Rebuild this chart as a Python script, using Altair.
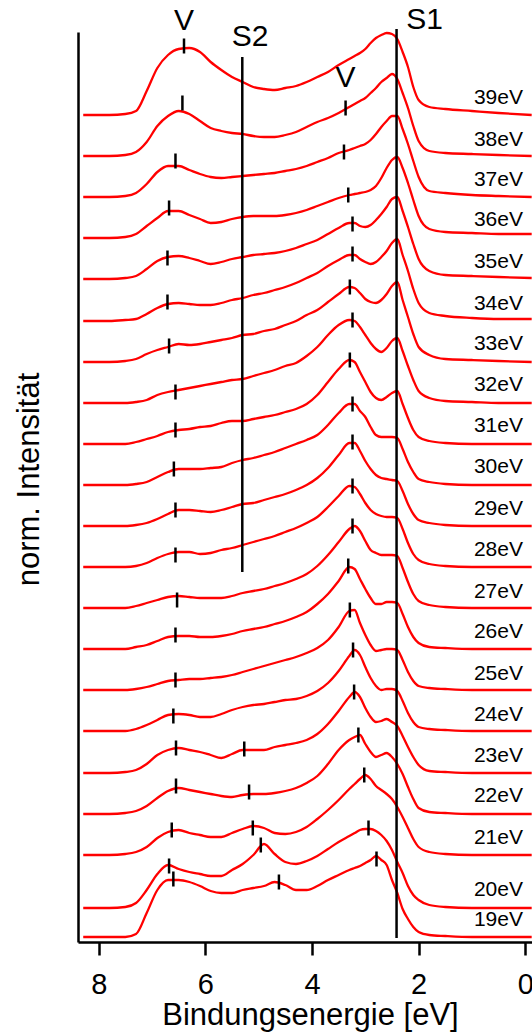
import altair as alt
import pandas as pd

FONT = "Liberation Sans"

# binding energy grid [eV]
energy = [8.29, 7.8, 7.5, 7.3, 7.1, 6.9, 6.7, 6.5, 6.3, 6.1, 5.9, 5.7, 5.5, 5.3, 5.1, 4.9, 4.7, 4.5, 4.3, 4.1,
          3.9, 3.7, 3.5, 3.3, 3.2, 3.1, 3.0, 2.9, 2.8, 2.7, 2.6, 2.5, 2.4, 2.3, 2.2, 2.1, 2.0, 1.8, 1.5, 1.0,
          0.5, -0.12]

photon = [39, 38, 37, 36, 35, 34, 33, 32, 31, 30, 29, 28, 27, 26, 25, 24, 23, 22, 21, 20, 19]
offsets = [827, 786, 745, 704, 663, 621, 580, 539, 498, 457, 416, 375, 334, 293, 252, 211, 169, 128, 87, 34, 5]
label_y = [844.5, 802, 762, 722, 680, 638, 598, 557, 516, 475, 433, 392, 350, 310, 268, 227, 186, 146, 104, 52, 22]

s39 = [0,0,1,4,24,47,60,66,67,63, 53,45,38,33,28,26,25,27,29,33, 38,43,50,56,59,62,66,72,77,80, 82,81,76,63,48,28,15,8,6,4, 2,0]
s38 = [0,0,1,4,14,30,40,45,42,35, 28,25,23,22,20,19,19,21,24,29, 34,38,43,49,52,55,58,63,68,74, 78,82,77,63,48,30,15,5,3,2, 1,0]
s37 = [0,0,1,4,13,25,31,31,27,23, 20,19,20,21,22,23,24,26,28,31, 35,39,44,47,49,51,53,57,63,70, 76,81,81,68,53,36,20,6,4,2, 1,0]
s36 = [0,0,1,4,12,20,27,27,23,19, 15,16,19,21,22,22,22,23,25,28, 32,36,40,43,44,45,46,48,52,60, 70,78,81,70,55,38,22,9,6,5, 4,4]
s35 = [0,0,1,3,10,18,22,23,21,18, 15,17,20,22,24,25,26,28,31,35, 39,45,51,56,56,53,52,54,59,65, 72,80,82,68,52,35,20,8,4,3, 2,1]
s34 = [0,0,1,2,7,13,17,18,17,16, 16,18,21,23,26,28,31,34,38,43, 48,55,61,66,66,62,59,57,59,64, 70,78,82,66,50,32,18,8,5,3, 2,2]
s33 = [0,0,1,3,8,12,15,18,17,18, 20,22,24,27,28,31,33,37,41,47, 52,60,68,75,74,69,63,60,59,62, 68,76,80,62,45,28,15,7,3,2, 1,0]
s32 = [0,0,0,1,3,8,11,13,15,17, 19,21,23,24,27,30,33,37,40,47, 56,68,78,83,82,76,68,60,54,51, 55,62,65,52,37,23,12,5,2,1, 0,0]
s31 = [0,0,0,2,5,8,12,14,15,17, 18,21,23,23,25,27,29,32,35,40, 49,62,75,84,82,72,62,52,46,44, 47,51,53,40,26,14,7,3,1,0, 0,0]
s30 = [0,0,0,1,3,8,13,16,16,16, 17,18,22,25,27,30,33,37,41,45, 50,60,72,81,81,74,68,58,50,48, 48,48,47,36,23,13,6,3,1,0, 0,0]
s29 = [0,0,0,1,3,7,12,16,16,15, 14,16,19,22,23,26,29,32,36,41, 48,58,71,83,83,75,65,57,51,48, 47,46,45,35,22,12,6,3,1,0, 0,0]
s28 = [0,0,0,1,4,9,13,15,15,13, 14,17,19,22,25,28,31,35,39,44, 50,60,71,81,80,73,64,57,53,51, 50,50,49,38,24,13,7,3,1,0, 0,0]
s27 = [0,0,0,2,5,8,11,12,11,10, 10,10,12,15,17,19,22,25,29,34, 42,53,66,79,82,77,67,58,55,53, 53,53,52,40,26,14,7,3,1,0, 0,0]
s26 = [0,0,0,2,4,8,12,13,13,12, 12,13,15,18,20,22,25,28,32,37, 45,55,68,82,80,70,60,51,45,45, 47,47,46,35,22,12,6,2,1,0, 0,0]
s25 = [0,0,0,1,3,6,9,10,11,11, 12,13,15,18,21,24,27,30,33,37, 42,50,63,79,80,67,55,45,39,40, 41,41,40,30,18,9,4,2,1,0, 0,0]
s24 = [0,0,0,2,6,11,16,17,16,14, 14,17,21,24,26,27,29,31,32,35, 40,48,60,75,81,76,64,53,45,41, 42,42,40,30,18,9,4,2,1,0, 0,0]
s23 = [0,0,1,3,9,18,23,25,23,21, 18,15,19,23,23,23,26,28,30,33, 39,49,62,76,81,76,65,56,51,52, 54,51,47,37,26,16,8,2,1,0, 0,0]
s22 = [0,0,1,3,8,16,23,26,24,22, 20,18,17,19,20,20,21,23,26,31, 38,50,64,74,77,79,70,62,57,59, 61,57,50,40,27,15,6,2,1,0, 0,0]
s21 = [0,0,1,3,8,17,23,25,22,20, 18,18,22,26,29,27,22,21,23,28, 36,45,55,66,71,76,80,76,69,65, 61,56,48,38,27,16,8,3,1,0, 0,0]
s20 = [0,0,1,5,18,34,43,39,36,34, 32,32,38,44,53,64,54,46,44,47, 52,59,66,72,75,78,79,79,77,73, 67,58,46,35,22,13,8,3,1,0, 0,0]
s19 = [0,0,0,3,24,47,57,57,55,51, 46,44,44,47,49,51,55,52,47,47, 51,57,62,67,69,71,74,77,81,77, 72,57,44,28,18,10,5,2,1,0, 0,0]

spectra = [s39, s38, s37, s36, s35, s34, s33, s32, s31, s30, s29, s28, s27, s26, s25, s24, s23, s22, s21, s20, s19]

# peak markers (energy, intensity position)
tick_E = [6.40, 6.43, 6.56, 6.68, 6.71, 6.71, 6.68, 6.56, 6.56, 6.59, 6.56, 6.56, 6.53, 6.56, 6.56, 6.60, 6.55, 6.55, 6.63, 6.68, 6.60,
          5.27, 5.18, 5.11, 4.96, 4.62,
          3.37, 3.40, 3.32, 3.24, 3.24, 3.29, 3.24, 3.29, 3.24, 3.24, 3.24, 3.24, 3.32, 3.29, 3.23, 3.21, 3.13, 3.02, 2.94, 2.79]
tick_y = [896, 839, 781, 734, 684, 640, 596, 550, 512, 473, 432, 387, 342, 307, 262, 226, 194, 156, 112, 76, 63,
          193, 150, 114, 97, 60,
          834, 790, 747, 718, 688, 655, 622, 582, 538, 500, 456, 416, 376, 332, 292, 250, 207, 167, 114, 83]

# reference lines S1, S2
ref_E = [2.414, 5.307]
ref_y1 = [4, 370]
ref_y2 = [913, 885]

# annotation letters
ann_text = ["V", "S2", "S1", "V"]
ann_E = [6.40, 5.163, 1.89, 3.37]
ann_y = [921, 905, 922, 864]

rows = []
for p, off, vals in zip(photon, offsets, spectra):
    for e, v in zip(energy, vals):
        rows.append({"E": e, "I": off + v, "spec": f"{p}eV"})
df = pd.DataFrame(rows)

lab_df = pd.DataFrame({"E": [0.044] * len(photon), "y": label_y, "t": [f"{p}eV" for p in photon]})
tick_df = pd.DataFrame({"E": tick_E, "y": [v - 7.5 for v in tick_y], "y2": [v + 7.5 for v in tick_y]})
ref_df = pd.DataFrame({"E": ref_E, "y": ref_y1, "y2": ref_y2})
ann_df = pd.DataFrame({"E": ann_E, "y": ann_y, "t": ann_text})

xscale = alt.Scale(domain=[-0.126, 8.388], reverse=True, nice=False, zero=False)
yscale = alt.Scale(domain=[0, 910], nice=False, zero=False)

xaxis = alt.Axis(values=[0, 2, 4, 6, 8], format="d", grid=False,
                 labelFont=FONT, labelFontSize=29, labelColor="black", labelBaseline="alphabetic",
                 labelPadding=38, tickSize=13, tickWidth=2.5, tickColor="black",
                 domainColor="black", domainWidth=2.5,
                 title="Bindungsenergie [eV]", titleFont=FONT, titleFontSize=31, titleFontWeight="normal",
                 titleColor="black", titleX=232, titleY=82, titleBaseline="alphabetic", titleAlign="center")
yaxis = alt.Axis(labels=False, ticks=False, grid=False, domainColor="black", domainWidth=2.5,
                 title="norm. Intensität", titleFont=FONT, titleFontSize=31, titleFontWeight="normal",
                 titleColor="black", titleX=-40, titleY=447, titleBaseline="alphabetic", titleAlign="center",
                 titleAngle=270)

lines = alt.Chart(df).mark_line(color="#ff0000", strokeWidth=2.3, interpolate="monotone").encode(
    x=alt.X("E:Q", scale=xscale, axis=xaxis),
    y=alt.Y("I:Q", scale=yscale, axis=yaxis),
    detail="spec:N",
)

refs = alt.Chart(ref_df).mark_rule(color="black", strokeWidth=2.5).encode(
    x=alt.X("E:Q", scale=xscale), y=alt.Y("y:Q", scale=yscale), y2="y2:Q")

ticks = alt.Chart(tick_df).mark_rule(color="black", strokeWidth=2.5).encode(
    x=alt.X("E:Q", scale=xscale), y=alt.Y("y:Q", scale=yscale), y2="y2:Q")

labels = alt.Chart(lab_df).mark_text(font=FONT, fontSize=21, align="right", baseline="middle", color="black").encode(
    x=alt.X("E:Q", scale=xscale), y=alt.Y("y:Q", scale=yscale), text="t:N")

ann = alt.Chart(ann_df).mark_text(font=FONT, fontSize=30, align="center", baseline="middle", color="black").encode(
    x=alt.X("E:Q", scale=xscale), y=alt.Y("y:Q", scale=yscale), text="t:N")

chart = alt.layer(lines, refs, ticks, labels, ann).properties(
    width=454, height=910,
    autosize=alt.AutoSizeParams(type="none"),
    padding={"left": 78, "top": 32, "right": 0, "bottom": 93},
    background="white",
).configure_view(stroke=None)

chart.save("out.html", embed_options={"renderer": "svg", "actions": False})
